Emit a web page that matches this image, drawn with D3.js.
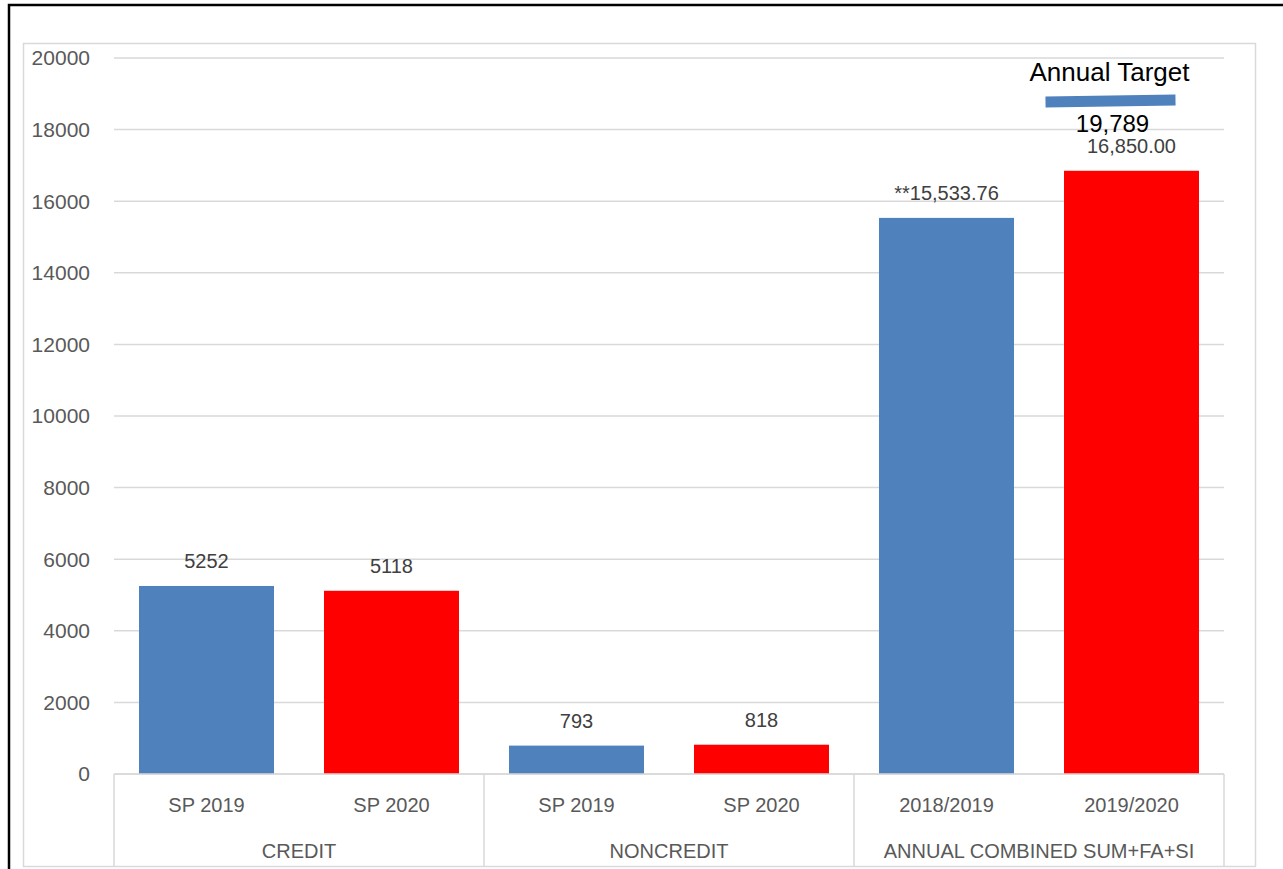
<!DOCTYPE html>
<html>
<head>
<meta charset="utf-8">
<script src="https://cdn.jsdelivr.net/npm/d3@7"></script>
<style>
  html, body { margin: 0; padding: 0; background: #fff; }
  svg { display: block; font-family: 'Liberation Sans', Arial, sans-serif; }
</style>
</head>
<body>
<div id="chart"></div>
<script>
// chart data
const groups = ['CREDIT', 'NONCREDIT', 'ANNUAL COMBINED SUM+FA+SI']
const categories = ['SP 2019', 'SP 2020', 'SP 2019', 'SP 2020', '2018/2019', '2019/2020']
const categoryGroup = [0, 0, 1, 1, 2, 2]
const values = [5252, 5118, 793, 818, 15533.76, 16850]
const valueLabels = ['5252', '5118', '793', '818', '**15,533.76', '16,850.00']
const barColors = ['#4F81BD', '#FF0000', '#4F81BD', '#FF0000', '#4F81BD', '#FF0000']
const yTicks = [0, 2000, 4000, 6000, 8000, 10000, 12000, 14000, 16000, 18000, 20000]
const targetLabel = 'Annual Target'
const targetValue = '19,789'

const width = 1283
const height = 869
const plot = { left: 114, right: 1224, top: 58, bottom: 774 }
const gridColor = '#d9d9d9'

const svg = d3.select('#chart').append('svg')
  .attr('width', width)
  .attr('height', height)

// outer black frame (top + left)
svg.append('path')
  .attr('d', 'M9,869 L9,5 L1283,5')
  .attr('stroke', '#000')
  .attr('stroke-width', 2.5)
  .attr('fill', 'none')

// chart area border
svg.append('rect')
  .attr('x', 23.5).attr('y', 43.5)
  .attr('width', 1232).attr('height', 823)
  .attr('fill', 'none')
  .attr('stroke', gridColor)
  .attr('stroke-width', 1.5)

const x = d3.scaleBand()
  .domain(d3.range(categories.length))
  .range([plot.left, plot.right])
  .paddingInner(50 / 185)
  .paddingOuter(25 / 185)

const y = d3.scaleLinear()
  .domain([0, 20000])
  .range([plot.bottom, plot.top])

// gridlines
svg.append('g')
  .selectAll('line')
  .data(yTicks)
  .join('line')
  .attr('x1', plot.left)
  .attr('x2', plot.right)
  .attr('y1', d => y(d))
  .attr('y2', d => y(d))
  .attr('stroke', gridColor)
  .attr('stroke-width', 1.5)

// y tick labels
svg.append('g')
  .selectAll('text')
  .data(yTicks)
  .join('text')
  .attr('x', 90)
  .attr('y', d => y(d))
  .attr('dy', '0.35em')
  .attr('text-anchor', 'end')
  .attr('fill', '#595959')
  .attr('font-size', 21)
  .text(d => d)

// bars
svg.append('g')
  .selectAll('rect')
  .data(values)
  .join('rect')
  .attr('x', (d, i) => x(i))
  .attr('width', x.bandwidth())
  .attr('y', d => y(d))
  .attr('height', d => y(0) - y(d))
  .attr('fill', (d, i) => barColors[i])

// data labels
svg.append('g')
  .selectAll('text')
  .data(values)
  .join('text')
  .attr('x', (d, i) => x(i) + x.bandwidth() / 2)
  .attr('y', d => y(d) - 18)
  .attr('text-anchor', 'middle')
  .attr('fill', '#404040')
  .attr('font-size', 20)
  .text((d, i) => valueLabels[i])

// category axis boxes
const step = x.step()
const groupEdges = [0, 2, 4, 6].map(i => plot.left + i * step)
svg.append('line')
  .attr('x1', plot.left).attr('x2', plot.right)
  .attr('y1', plot.bottom).attr('y2', plot.bottom)
  .attr('stroke', gridColor).attr('stroke-width', 1.5)
svg.append('g')
  .selectAll('line')
  .data(groupEdges)
  .join('line')
  .attr('x1', d => d).attr('x2', d => d)
  .attr('y1', plot.bottom).attr('y2', 867)
  .attr('stroke', gridColor).attr('stroke-width', 1.5)

svg.append('g')
  .selectAll('text')
  .data(categories)
  .join('text')
  .attr('x', (d, i) => x(i) + x.bandwidth() / 2)
  .attr('y', 805)
  .attr('dy', '0.35em')
  .attr('text-anchor', 'middle')
  .attr('fill', '#595959')
  .attr('font-size', 20)
  .text(d => d)

svg.append('g')
  .selectAll('text')
  .data(groups)
  .join('text')
  .attr('x', (d, i) => (groupEdges[i] + groupEdges[i + 1]) / 2)
  .attr('y', 851)
  .attr('dy', '0.35em')
  .attr('text-anchor', 'middle')
  .attr('fill', '#595959')
  .attr('font-size', 20)
  .text(d => d)

// annual target annotation above last bar
const last = categories.length - 1
const cx = x(last) + x.bandwidth() / 2
svg.append('text')
  .attr('x', cx - 22)
  .attr('y', 81)
  .attr('text-anchor', 'middle')
  .attr('fill', '#000')
  .attr('font-size', 26)
  .text(targetLabel)
svg.append('line')
  .attr('x1', cx - 86).attr('y1', 102)
  .attr('x2', cx + 44).attr('y2', 100)
  .attr('stroke', '#4F81BD')
  .attr('stroke-width', 11)
svg.append('text')
  .attr('x', cx - 19)
  .attr('y', 132)
  .attr('text-anchor', 'middle')
  .attr('fill', '#000')
  .attr('font-size', 24)
  .text(targetValue)
</script>
</body>
</html>
